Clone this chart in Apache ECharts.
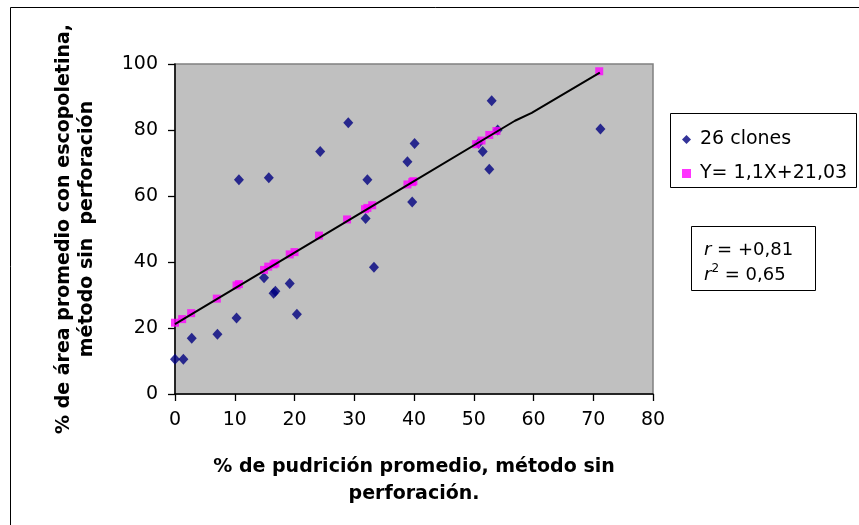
<!DOCTYPE html>
<html>
<head>
<meta charset="utf-8">
<script src="https://cdn.jsdelivr.net/npm/echarts@6/dist/echarts.min.js"></script>
<style>
html,body{margin:0;padding:0;background:#fff;}
#c{width:859px;height:525px;}
</style>
</head>
<body>
<div id="c"></div>
<script>
// 26 clones: x = % pudrición, y = % área con escopoletina
const clonesX = [0, 1.4, 2.8, 7.1, 10.3, 10.7, 14.9, 15.7, 16.5, 16.8, 19.2, 20.4, 24.3, 29.0, 31.9, 32.2, 33.3, 38.9, 39.7, 40.1, 50.8, 51.5, 52.6, 53.0, 54.0, 71.2];
const clonesY = [10.5, 10.5, 16.9, 18.1, 23.0, 64.9, 35.2, 65.5, 30.5, 31.1, 33.5, 24.2, 73.5, 82.2, 53.2, 64.9, 38.4, 70.4, 58.2, 75.9, 76.0, 73.5, 68.1, 88.9, 80.0, 80.3];
// fitted values (pink squares)
const fitX = [0, 1.2, 2.7, 7.0, 10.3, 10.7, 14.9, 15.6, 16.5, 16.8, 19.2, 20.0, 24.1, 28.8, 31.8, 32.2, 33.0, 38.9, 39.7, 39.9, 50.4, 51.3, 52.6, 53.8, 71.0];
const fitY = [21.6, 22.7, 24.5, 28.9, 32.9, 33.3, 37.6, 38.6, 39.3, 39.6, 42.3, 43.0, 48.0, 52.9, 56.0, 56.4, 57.2, 63.5, 64.2, 64.5, 75.7, 76.8, 78.5, 79.7, 97.8];
// trend line vertices
const lineX = [0, 37.7, 56.9, 59.7, 71.1];
const lineY = [21.2, 62.0, 82.8, 85.2, 97.4];
const xTicks = [0, 10, 20, 30, 40, 50, 60, 70, 80];
const yTicks = [0, 20, 40, 60, 80, 100];
const seriesNames = ['26 clones', 'Y= 1,1X+21,03'];
const xTitle = '% de pudrición promedio, método sin\nperforación.';
const yTitle = '% de área promedio con escopoletina,\nmétodo sin  perforación';

const F = '"DejaVu Sans", "Liberation Sans", Arial, sans-serif';
const zip = (a, b) => a.map((v, i) => [v, b[i]]);

const chart = echarts.init(document.getElementById('c'), null, {renderer: 'canvas'});
chart.setOption({
  backgroundColor: '#fff',
  animation: false,
  grid: {left: 175, top: 64, width: 478, height: 330, show: true, backgroundColor: '#C0C0C0', borderColor: '#808080', borderWidth: 1.5},
  xAxis: {
    type: 'value', min: xTicks[0], max: xTicks[xTicks.length - 1], interval: 10,
    axisLine: {show: true, lineStyle: {color: '#000', width: 1.5}},
    axisTick: {show: true, inside: false, length: 7, lineStyle: {color: '#000', width: 1.3}},
    axisLabel: {fontFamily: F, fontSize: 19, color: '#000', margin: 17},
    splitLine: {show: false},
    name: xTitle, nameLocation: 'middle', nameGap: 60,
    nameTextStyle: {fontFamily: F, fontSize: 19, fontWeight: 'bold', color: '#000', lineHeight: 27}
  },
  yAxis: {
    type: 'value', min: yTicks[0], max: yTicks[yTicks.length - 1], interval: 20,
    axisLine: {show: true, lineStyle: {color: '#000', width: 1.5}},
    axisTick: {show: true, inside: false, length: 7, lineStyle: {color: '#000', width: 1.3}},
    axisLabel: {fontFamily: F, fontSize: 19, color: '#000', margin: 17},
    splitLine: {show: false},
    name: yTitle, nameLocation: 'middle', nameGap: 76, nameRotate: 90,
    nameTextStyle: {fontFamily: F, fontSize: 19, fontWeight: 'bold', color: '#000', lineHeight: 23}
  },
  legend: {
    orient: 'vertical', left: 677, top: 125, itemGap: 15, itemWidth: 9, itemHeight: 9,
    textStyle: {fontFamily: F, fontSize: 19, color: '#000', padding: [0, 0, 0, 4]},
    data: [{name: seriesNames[0], icon: 'diamond'}, {name: seriesNames[1], icon: 'rect'}]
  },
  graphic: [
    {type: 'rect', shape: {x: 10.5, y: 7.5, width: 870, height: 540}, style: {fill: 'none', stroke: '#000', lineWidth: 1}, z: -1},
    {type: 'rect', shape: {x: 670.5, y: 113.5, width: 186, height: 74}, style: {fill: '#fff', stroke: '#000', lineWidth: 1}, z: 0},
    {type: 'rect', shape: {x: 691.5, y: 226.5, width: 124, height: 64}, style: {fill: '#fff', stroke: '#000', lineWidth: 1}, z: 0},
    {type: 'text', left: 704, top: 238, z: 1, style: {
      text: '{i|r} = +0,81\n{i|r}{s|2} = 0,65',
      font: '18px ' + F, fill: '#000', lineHeight: 25,
      rich: {i: {fontStyle: 'italic', fontSize: 18, fontFamily: F}, s: {fontSize: 12, fontFamily: F, verticalAlign: 'top', padding: [0, 0, 8, 0]}}
    }}
  ],
  series: [
    {name: seriesNames[0], type: 'scatter', data: zip(clonesX, clonesY), symbol: 'diamond', symbolSize: [10, 11],
      itemStyle: {color: '#000080'}, z: 3},
    {name: seriesNames[1], type: 'scatter', data: zip(fitX, fitY), symbol: 'rect', symbolSize: 8,
      itemStyle: {color: '#FF00FF'}, z: 4},
    {name: 'trend', type: 'line', data: zip(lineX, lineY), symbol: 'none', showSymbol: false,
      lineStyle: {color: '#000', width: 2}, z: 5, silent: true}
  ]
});
</script>
</body>
</html>
